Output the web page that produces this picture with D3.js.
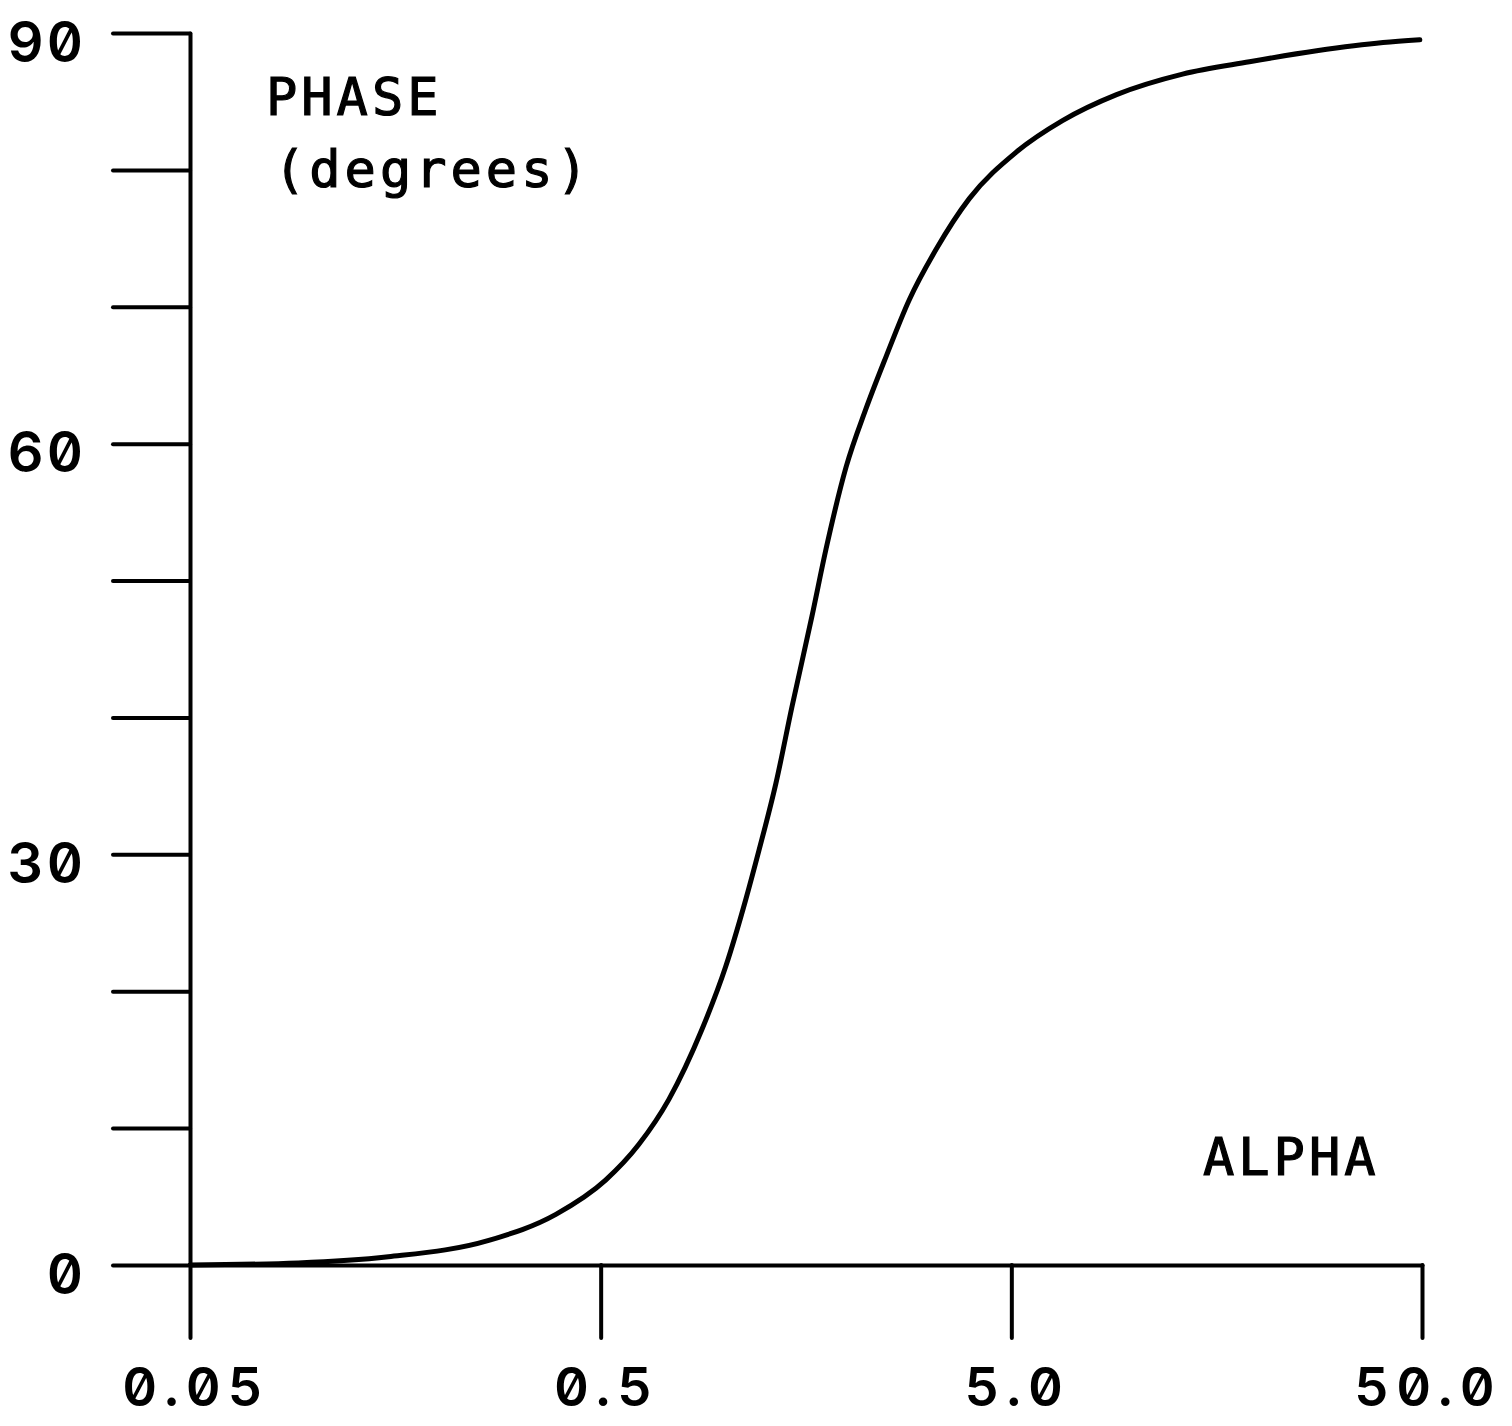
<!DOCTYPE html>
<html>
<head>
<meta charset="utf-8">
<script src="https://cdn.jsdelivr.net/npm/d3@7"></script>
<style>
  html, body { margin: 0; padding: 0; background: #fff; }
  svg text { fill: #000; }
  .axis path, .axis line { stroke: #000; stroke-width: 4; stroke-linecap: round; }
  .tick-label {
    font-family: Inter, "DejaVu Sans Mono", monospace;
    font-size: 56px;
    font-weight: 600;
    letter-spacing: 3px;
    font-feature-settings: "zero" 1, "tnum" 1;
    font-variant-numeric: slashed-zero tabular-nums;
  }
  .x-label { font-size: 54px; letter-spacing: 7px; }
  .label {
    font-family: "DejaVu Sans Mono", "Liberation Mono", monospace;
    font-size: 52px;
    letter-spacing: 4px;
    stroke: #000;
    stroke-width: 1.2px;
  }
</style>
</head>
<body>
<div id="chart"></div>
<script>
// phase curve
const alpha = [0.05, 0.0917, 0.152, 0.267, 0.389, 0.514, 0.619, 0.733, 0.882, 1.008, 1.128, 1.215,
  1.336, 1.462, 1.635, 1.769, 1.98, 2.21, 2.48, 2.82, 3.28, 3.95, 5.14, 6.66, 9.02, 13.06,
  19.0, 27.7, 40.2, 49.4];
const phase = [0, 0.15, 0.6, 1.8, 3.7, 6.2, 8.8, 12.1, 17.2, 21.8, 26.7, 30.3,
  35.2, 40.8, 47.4, 52.3, 58.3, 62.5, 66.4, 70.5, 74.2, 77.9, 81.3, 83.6, 85.5, 87.0,
  87.9, 88.7, 89.3, 89.5];

const xTicks = [0.05, 0.5, 5, 50];
const xTickLabels = ["0.05", "0.5", "5.0", "50.0"];
const yTicks = [0, 10, 20, 30, 40, 50, 60, 70, 80, 90];
const yLabelled = [0, 30, 60, 90];

const width = 1512;
const height = 1426;

const x = d3.scaleLog().domain([0.05, 50]).range([190, 1422]);
const y = d3.scaleLinear().domain([0, 90]).range([1265, 33]);

const svg = d3.select("#chart")
  .append("svg")
  .attr("width", width)
  .attr("height", height);

// left axis, ticks every 10 deg, labels every 30
const yAxis = svg.append("g")
  .attr("class", "axis")
  .attr("transform", "translate(190,0)")
  .call(d3.axisLeft(y)
    .tickValues(yTicks)
    .tickSizeInner(77)
    .tickSizeOuter(0)
    .tickPadding(27)
    .tickFormat(d => yLabelled.includes(d) ? String(d) : ""));
yAxis.selectAll("text")
  .attr("class", "tick-label")
  .attr("dy", "0.5em");

// bottom axis, ticks hang below the line
const xAxis = svg.append("g")
  .attr("class", "axis")
  .attr("transform", "translate(0,1265)")
  .call(d3.axisBottom(x)
    .tickValues(xTicks)
    .tickSizeInner(73)
    .tickSizeOuter(0)
    .tickPadding(30)
    .tickFormat((d, i) => xTickLabels[i]));
xAxis.selectAll("text")
  .attr("class", "tick-label x-label")
  .attr("dx", "0.1em");

svg.selectAll(".axis").attr("font-family", null).attr("font-size", null);

const line = d3.line()
  .x((d, i) => x(alpha[i]))
  .y(d => y(d))
  .curve(d3.curveMonotoneX);

svg.append("path")
  .datum(phase)
  .attr("fill", "none")
  .attr("stroke", "#000")
  .attr("stroke-width", 5)
  .attr("stroke-linecap", "round")
  .attr("d", line);

svg.append("text")
  .attr("class", "label")
  .attr("x", 266)
  .attr("y", 115)
  .text("PHASE");

svg.append("text")
  .attr("class", "label")
  .attr("x", 274)
  .attr("y", 187)
  .text("(degrees)");

svg.append("text")
  .attr("class", "label")
  .attr("x", 1203)
  .attr("y", 1175)
  .text("ALPHA");
</script>
</body>
</html>
